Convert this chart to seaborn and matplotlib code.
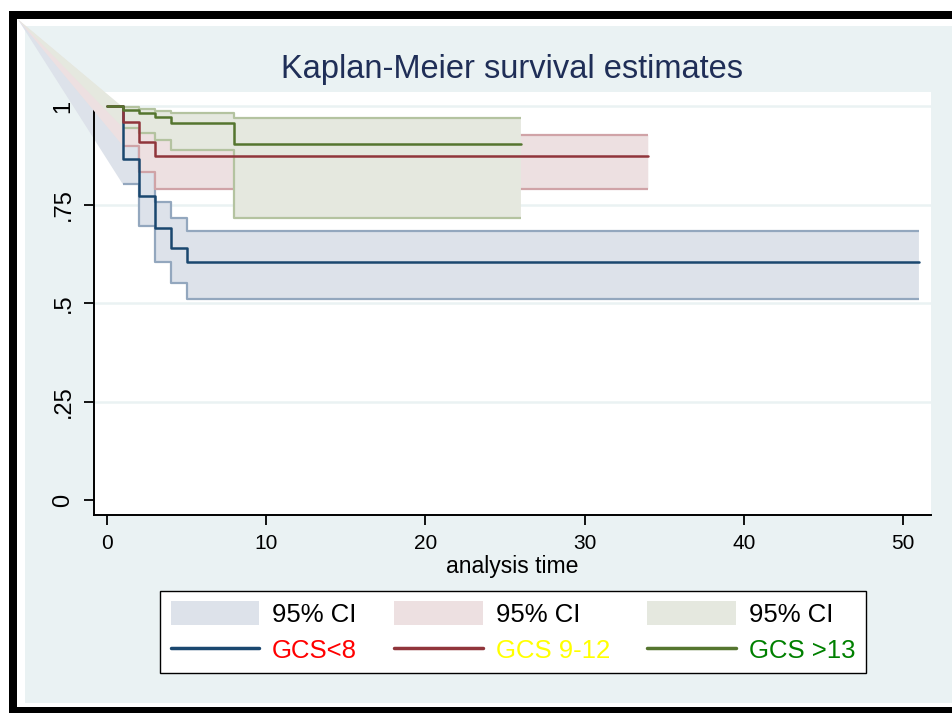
import numpy as np
import pandas as pd
import matplotlib
matplotlib.use("Agg")
import matplotlib.pyplot as plt
from matplotlib.patches import Rectangle, Patch
from matplotlib.lines import Line2D
import seaborn as sns

# ---------------- data ----------------
groups = ["GCS<8", "GCS 9-12", "GCS >13"]

blue_time = [0, 1, 2, 3, 4, 5, 51]
blue_surv = [1.0, 0.865, 0.771, 0.690, 0.639, 0.603, 0.603]
blue_ci_time = [1, 2, 3, 4, 5, 51]
blue_ci_upper = [0.935, 0.840, 0.757, 0.715, 0.684, 0.684]
blue_ci_lower = [0.801, 0.695, 0.603, 0.550, 0.510, 0.510]

red_time = [0, 1, 2, 3, 34]
red_surv = [1.0, 0.959, 0.909, 0.874, 0.874]
red_ci_time = [1, 2, 3, 34]
red_ci_upper = [0.995, 0.975, 0.926, 0.926]
red_ci_lower = [0.899, 0.833, 0.789, 0.789]

green_time = [0, 1, 2, 3, 4, 8, 26]
green_surv = [1.0, 0.990, 0.981, 0.971, 0.958, 0.903, 0.903]
green_ci_time = [1, 2, 3, 4, 8, 26]
green_ci_upper = [0.997, 0.992, 0.987, 0.981, 0.969, 0.969]
green_ci_lower = [0.945, 0.932, 0.914, 0.888, 0.716, 0.716]

# stray vertex that the original software joined every CI band to
ci_origin_time = -5.6
ci_origin_value = 1.22

xticks = [0, 10, 20, 30, 40, 50]
yticks = [0, 0.25, 0.5, 0.75, 1]
ytick_labels = ["0", ".25", ".5", ".75", "1"]
ci_label = "95% CI"

# ---------------- styles ----------------
line_colors = ["#1a476f", "#90353b", "#55752f"]
fill_colors = ["#dde2ea", "#ede0e1", "#e5e8df"]
edge_colors = ["#93a7be", "#d0a3a7", "#b4c3a0"]
label_colors = ["#ff0000", "#ffff00", "#008000"]
bg_color = "#eaf2f3"
title_color = "#1f2e57"

sns.set_theme(style="white")
plt.rcParams["font.family"] = ["Liberation Sans", "DejaVu Sans"]

W, H = 953, 713
fig = plt.figure(figsize=(W / 100, H / 100), dpi=100)
fig.patch.set_facecolor("white")


def px_rect(x0, y0, x1, y1, color, z):
    r = Rectangle((x0 / W, 1 - y1 / H), (x1 - x0) / W, (y1 - y0) / H,
                  transform=fig.transFigure, facecolor=color, edgecolor="none",
                  zorder=z)
    fig.add_artist(r)


px_rect(9, 11, 953, 713, "black", -30)
px_rect(17, 19, 953, 707, "white", -29)
px_rect(25, 26, 953, 703, bg_color, -28)

ax = fig.add_axes([94 / W, 1 - 515 / H, (931 - 94) / W, (515 - 92) / H])
ax.set_facecolor("white")
ax.set_zorder(1)

x0 = (94 - 107) / 15.92
x1 = (931 - 107) / 15.92
ax.set_xlim(x0, x1)
ax.set_ylim(-15 / 394, 1 + 14 / 394)


def steps(t, v):
    t = np.asarray(t, float)
    v = np.asarray(v, float)
    return np.repeat(t, 2)[1:], np.repeat(v, 2)[:-1]


ci_sets = [
    (blue_ci_time, blue_ci_upper, blue_ci_lower),
    (red_ci_time, red_ci_upper, red_ci_lower),
    (green_ci_time, green_ci_upper, green_ci_lower),
]

for i, (t, up, lo) in enumerate(ci_sets):
    ux, uy = steps(t, up)
    lx, ly = steps(t, lo)
    px = np.concatenate([[ci_origin_time], ux, lx[::-1], [ci_origin_time]])
    py = np.concatenate([[ci_origin_value], uy, ly[::-1], [ci_origin_value]])
    z = 2 + i * 2
    ax.fill(px, py, color=fill_colors[i], lw=0, clip_on=False, zorder=z)
    ax.plot(ux, uy, color=edge_colors[i], lw=1.6, zorder=z + 0.5,
            solid_capstyle="butt")
    ax.plot(lx, ly, color=edge_colors[i], lw=1.6, zorder=z + 0.5,
            solid_capstyle="butt")

df = pd.concat([
    pd.DataFrame({"time": blue_time, "surv": blue_surv, "group": groups[0]}),
    pd.DataFrame({"time": red_time, "surv": red_surv, "group": groups[1]}),
    pd.DataFrame({"time": green_time, "surv": green_surv, "group": groups[2]}),
], ignore_index=True)

sns.lineplot(data=df, x="time", y="surv", hue="group", hue_order=groups,
             palette=dict(zip(groups, line_colors)), estimator=None,
             sort=False, drawstyle="steps-post", linewidth=1.8, legend=False,
             ax=ax, zorder=10)

# grid, axes
ax.set_yticks(yticks)
ax.set_yticklabels(ytick_labels, rotation=90, va="center", fontsize=17)
ax.set_xticks(xticks)
ax.set_xticklabels([str(v) for v in xticks], fontsize=15)
ax.grid(False)
for yv in yticks[1:]:
    ax.axhline(yv, color=bg_color, lw=1.8, zorder=0.5)

for s in ["top", "right"]:
    ax.spines[s].set_visible(False)
for s in ["left", "bottom"]:
    ax.spines[s].set_color("black")
    ax.spines[s].set_linewidth(1.4)

ax.tick_params(axis="both", direction="out", length=7, width=1.3,
               color="black", labelcolor="black", left=True, bottom=True)
ax.tick_params(axis="y", pad=7)
ax.tick_params(axis="x", pad=7)

ax.set_xlabel("analysis time", fontsize=16.6, color="black")
ax.set_ylabel("")
ax.xaxis.set_label_coords(0.5, (515 - 567) / 423)
ax.xaxis.label.set_va("center")

ax.set_title("Kaplan-Meier survival estimates", fontsize=23.5,
             color=title_color, y=(515 - 70) / 423, va="center", pad=0)

# legend
handles, labels = [], []
for i in range(3):
    handles.append(Patch(facecolor=fill_colors[i], edgecolor="none"))
    labels.append(ci_label)
    handles.append(Line2D([0], [0], color=line_colors[i], lw=2.5))
    labels.append(groups[i])

leg = fig.legend(handles, labels, ncol=3, loc="center",
                 bbox_to_anchor=(513 / W, 1 - 632 / H),
                 bbox_transform=fig.transFigure, fontsize=18.5,
                 frameon=True, fancybox=False, framealpha=1,
                 facecolor="white", edgecolor="black",
                 handlelength=3.45, handleheight=1.05, handletextpad=0.5,
                 columnspacing=1.45, labelspacing=0.42, borderpad=0.4)
leg.get_frame().set_linewidth(1.0)
for k, txt in enumerate(leg.get_texts()):
    if k % 2 == 1:
        txt.set_color(label_colors[k // 2])
    else:
        txt.set_color("black")

fig.savefig("out.png", dpi=100)
